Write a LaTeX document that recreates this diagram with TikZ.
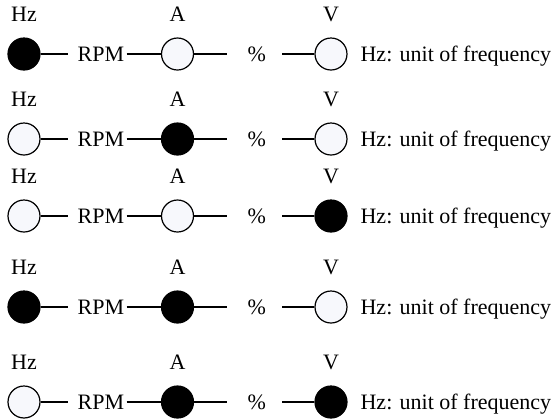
\documentclass[tikz,border=0pt]{standalone}
\usepackage{fontspec}
\setmainfont{Liberation Serif}
\definecolor{paleblue}{RGB}{247,248,252}

\begin{document}
\begin{tikzpicture}[x=0.5pt,y=-0.5pt,line width=0.6pt,
  dot/.style={circle,draw=black,minimum size=16pt,inner sep=0pt},
  txt/.style={inner sep=1pt,font=\fontsize{11}{13}\selectfont}]
  \useasboundingbox (0,0) rectangle (554,419);
  \foreach \y/\ca/\cb/\cc [count=\i] in {54/black/paleblue/paleblue,139/paleblue/black/paleblue,216/paleblue/paleblue/black,307/black/black/paleblue,402/paleblue/black/black}{
    \node[dot,fill=\ca] (hz\i) at (24,\y) {};
    \node[dot,fill=\cb] (a\i) at (177.5,\y) {};
    \node[dot,fill=\cc] (v\i) at (331,\y) {};
    \node[txt,anchor=base] (lhz\i) at (24,\y-33) {Hz};
    \node[txt,anchor=base] (la\i) at (177.5,\y-33) {A};
    \node[txt,anchor=base] (lv\i) at (331,\y-33) {V};
    \node[txt,anchor=base west] (rpm\i) at (75,\y+7) {RPM};
    \node[txt,anchor=base west] (pc\i) at (245,\y+7) {\%};
    \node[txt,anchor=base west] (note\i) at (358,\y+7) {Hz: unit of frequency};
    \draw (hz\i.east) -- ++(27,0);
    \draw (a\i.west -| rpm\i.east) -- (a\i.west);
    \draw (a\i.east) -- ++(33,0);
    \draw (v\i.west) -- ++(-32,0);
  }
\end{tikzpicture}
\end{document}
